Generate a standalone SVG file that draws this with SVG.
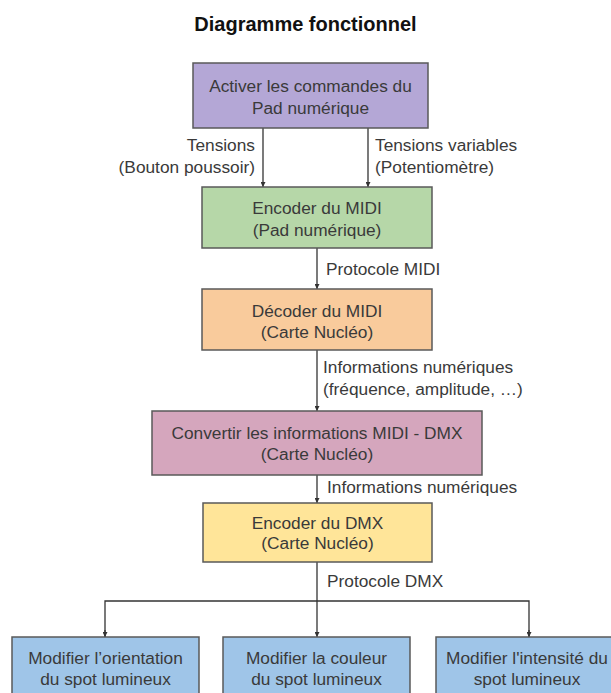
<svg xmlns="http://www.w3.org/2000/svg" width="611" height="693" viewBox="0 0 611 693">
<defs>
<style>
.t{font-family:"Liberation Sans",Arial,sans-serif;font-size:17.3px;fill:#3a3a3a}
.c{text-anchor:middle}
.e{text-anchor:end}
.box{stroke:#595959;stroke-width:1.5}
.ln{stroke:#333;stroke-width:1.3;fill:none}
</style>
<marker id="ah" viewBox="0 0 10 10" refX="10" refY="5" markerWidth="5" markerHeight="5" orient="auto" markerUnits="userSpaceOnUse">
<path d="M0,0 L10,5 L0,10 z" fill="#333"/>
</marker>
</defs>
<rect width="611" height="693" fill="#ffffff"/>
<text x="305.5" y="31" style="font-family:'Liberation Sans',Arial,sans-serif;font-size:20px;font-weight:bold;fill:#111" text-anchor="middle">Diagramme fonctionnel</text>

<g id="connectors">
<line class="ln" x1="263" y1="128" x2="263" y2="187" marker-end="url(#ah)"/>
<line class="ln" x1="368" y1="128" x2="368" y2="187" marker-end="url(#ah)"/>
<line class="ln" x1="317" y1="248" x2="317" y2="289" marker-end="url(#ah)"/>
<line class="ln" x1="317" y1="350" x2="317" y2="411" marker-end="url(#ah)"/>
<line class="ln" x1="317" y1="475" x2="317" y2="503" marker-end="url(#ah)"/>
<line class="ln" x1="317" y1="562" x2="317" y2="637" marker-end="url(#ah)"/>
<polyline class="ln" points="105,637 105,601 529,601 529,637"/>
<line class="ln" x1="105" y1="630" x2="105" y2="637" marker-end="url(#ah)"/>
<line class="ln" x1="529" y1="630" x2="529" y2="637" marker-end="url(#ah)"/>
<text class="t e" x="255" y="151">Tensions</text>
<text class="t e" x="255" y="173">(Bouton poussoir)</text>
<text class="t" x="375" y="151">Tensions variables</text>
<text class="t" x="375" y="173">(Potentiomètre)</text>
<text class="t" x="326" y="275">Protocole MIDI</text>
<text class="t" x="323" y="373">Informations numériques</text>
<text class="t" x="323" y="395">(fréquence, amplitude, …)</text>
<text class="t" x="327" y="493">Informations numériques</text>
<text class="t" x="327" y="587">Protocole DMX</text>
</g>

<g id="n1">
<rect class="box" x="193" y="63" width="235" height="65" fill="#b4a7d6"/>
<text class="t c" x="310.5" y="92">Activer les commandes du</text>
<text class="t c" x="310.5" y="114">Pad numérique</text>
</g>
<g id="n2">
<rect class="box" x="202" y="187" width="230" height="61" fill="#b6d7a8"/>
<text class="t c" x="317" y="214">Encoder du MIDI</text>
<text class="t c" x="317" y="236">(Pad numérique)</text>
</g>
<g id="n3">
<rect class="box" x="202" y="289" width="230" height="61" fill="#f9cb9c"/>
<text class="t c" x="317" y="317">Décoder du MIDI</text>
<text class="t c" x="317" y="338">(Carte Nucléo)</text>
</g>
<g id="n4">
<rect class="box" x="152" y="411" width="330" height="64" fill="#d5a6bd"/>
<text class="t c" x="317" y="439">Convertir les informations MIDI - DMX</text>
<text class="t c" x="317" y="460">(Carte Nucléo)</text>
</g>
<g id="n5">
<rect class="box" x="203" y="503" width="229" height="59" fill="#ffe599"/>
<text class="t c" x="317.5" y="529">Encoder du DMX</text>
<text class="t c" x="317.5" y="549">(Carte Nucléo)</text>
</g>
<g id="n6">
<rect class="box" x="12" y="637" width="187" height="70" fill="#9fc5e8"/>
<text class="t c" x="105.5" y="664">Modifier l’orientation</text>
<text class="t c" x="105.5" y="685">du spot lumineux</text>
</g>
<g id="n7">
<rect class="box" x="223" y="637" width="187" height="70" fill="#9fc5e8"/>
<text class="t c" x="316.5" y="664">Modifier la couleur</text>
<text class="t c" x="316.5" y="685">du spot lumineux</text>
</g>
<g id="n8">
<rect class="box" x="436" y="637" width="187" height="70" fill="#9fc5e8"/>
<text class="t c" x="527" y="664">Modifier l'intensité du</text>
<text class="t c" x="527" y="685">spot lumineux</text>
</g>
</svg>
